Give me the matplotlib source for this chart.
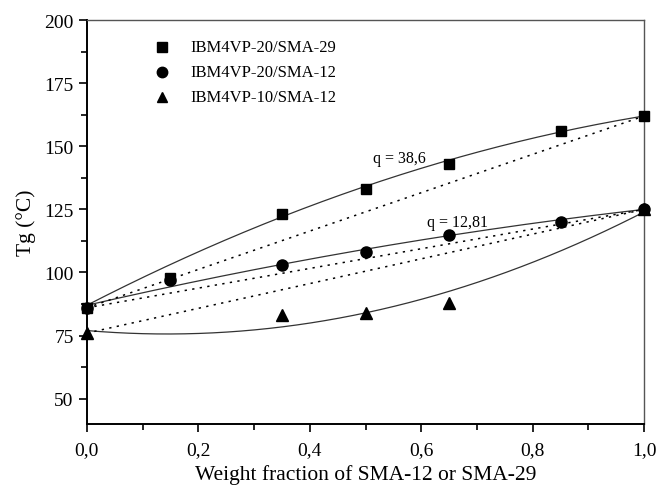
import numpy as np
import matplotlib
matplotlib.use("Agg")
import matplotlib.pyplot as plt
import matplotlib.ticker as ticker

plt.rcParams["font.family"] = ["Liberation Serif", "DejaVu Serif"]

# measured glass transitions vs. weight fraction of SMA
w_sma29 = [0.0, 0.15, 0.35, 0.50, 0.65, 0.85, 1.0]
tg_sma29 = [86, 98, 123, 133, 143, 156, 162]

w_sma12 = [0.0, 0.15, 0.35, 0.50, 0.65, 0.85, 1.0]
tg_sma12 = [86, 97, 103, 108, 115, 120, 125]

w_vp10 = [0.0, 0.35, 0.50, 0.65, 1.0]
tg_vp10 = [76, 83, 84, 88, 125]

labels = ["IBM4VP-20/SMA-29", "IBM4VP-20/SMA-12", "IBM4VP-10/SMA-12"]

# Kwei fits: (Tg1, Tg2, k, q)
kwei_params = [(87, 162, 1.0, 38.6), (87, 125, 1.0, 12.81), (77, 124, 1.0, -66.0)]
q_labels = ["q = 38,6", "q = 12,81"]
q_pos = [(0.56, 145.5), (0.665, 120.0)]

# linear additivity lines between the pure components
linear_ends = [(86, 162), (86, 125), (76, 125)]


def kwei(w2, tg1, tg2, k, q):
    w1 = 1 - w2
    return (w1 * tg1 + k * w2 * tg2) / (w1 + k * w2) + q * w1 * w2


fig = plt.figure(figsize=(6.58, 4.89), dpi=100)
ax = fig.add_axes([0.132, 0.131, 0.847, 0.826])

xs = np.linspace(0, 1, 200)
for tg1, tg2, k, q in kwei_params:
    ax.plot(xs, kwei(xs, tg1, tg2, k, q), color="#333333", lw=0.9, zorder=2)
for a, b in linear_ends:
    ax.plot([0, 1], [a, b], color="black", lw=1.1, ls=(0, (1.5, 3.5)), zorder=2)

ax.plot(w_sma29, tg_sma29, "s", color="black", ms=7, ls="none", clip_on=False, zorder=3)
ax.plot(w_sma12, tg_sma12, "o", color="black", ms=8, ls="none", clip_on=False, zorder=3)
ax.plot(w_vp10, tg_vp10, "^", color="black", ms=8, ls="none", clip_on=False, zorder=3)

for txt, (x, y) in zip(q_labels, q_pos):
    ax.text(x, y, txt, fontsize=11.5, ha="center", va="center")

# legend drawn by hand, no frame
for i, (mk, lab) in enumerate(zip(["s", "o", "^"], labels)):
    y = 189.3 - i * 9.8
    ax.plot(0.135, y, mk, color="black", ms=7.5 if mk != "s" else 6.5)
    ax.text(0.185, y, lab, fontsize=12, va="center", ha="left")

ax.set_xlim(0, 1)
ax.set_ylim(40, 200)
ax.xaxis.set_major_locator(ticker.MultipleLocator(0.2))
ax.xaxis.set_minor_locator(ticker.MultipleLocator(0.1))
ax.yaxis.set_major_locator(ticker.FixedLocator([50, 75, 100, 125, 150, 175, 200]))
ax.yaxis.set_minor_locator(ticker.FixedLocator([62.5, 87.5, 112.5, 137.5, 162.5, 187.5]))
ax.xaxis.set_major_formatter(ticker.FuncFormatter(lambda v, p: f"{v:.1f}".replace(".", ",")))

ax.tick_params(which="both", direction="out", top=False, right=False, labelsize=14)
ax.tick_params(which="major", length=6, width=1.2)
ax.tick_params(which="minor", length=4, width=1.2)
ax.tick_params(axis="x", pad=6)

for s in ["left", "bottom"]:
    ax.spines[s].set_linewidth(1.4)
for s in ["top", "right"]:
    ax.spines[s].set_linewidth(1.0)
    ax.spines[s].set_color("#555555")

ax.set_xlabel("Weight fraction of SMA-12 or SMA-29", fontsize=15.5, labelpad=5)
ax.set_ylabel("Tg (°C)", fontsize=15.5, labelpad=6)

fig.savefig("out.png", dpi=100)
